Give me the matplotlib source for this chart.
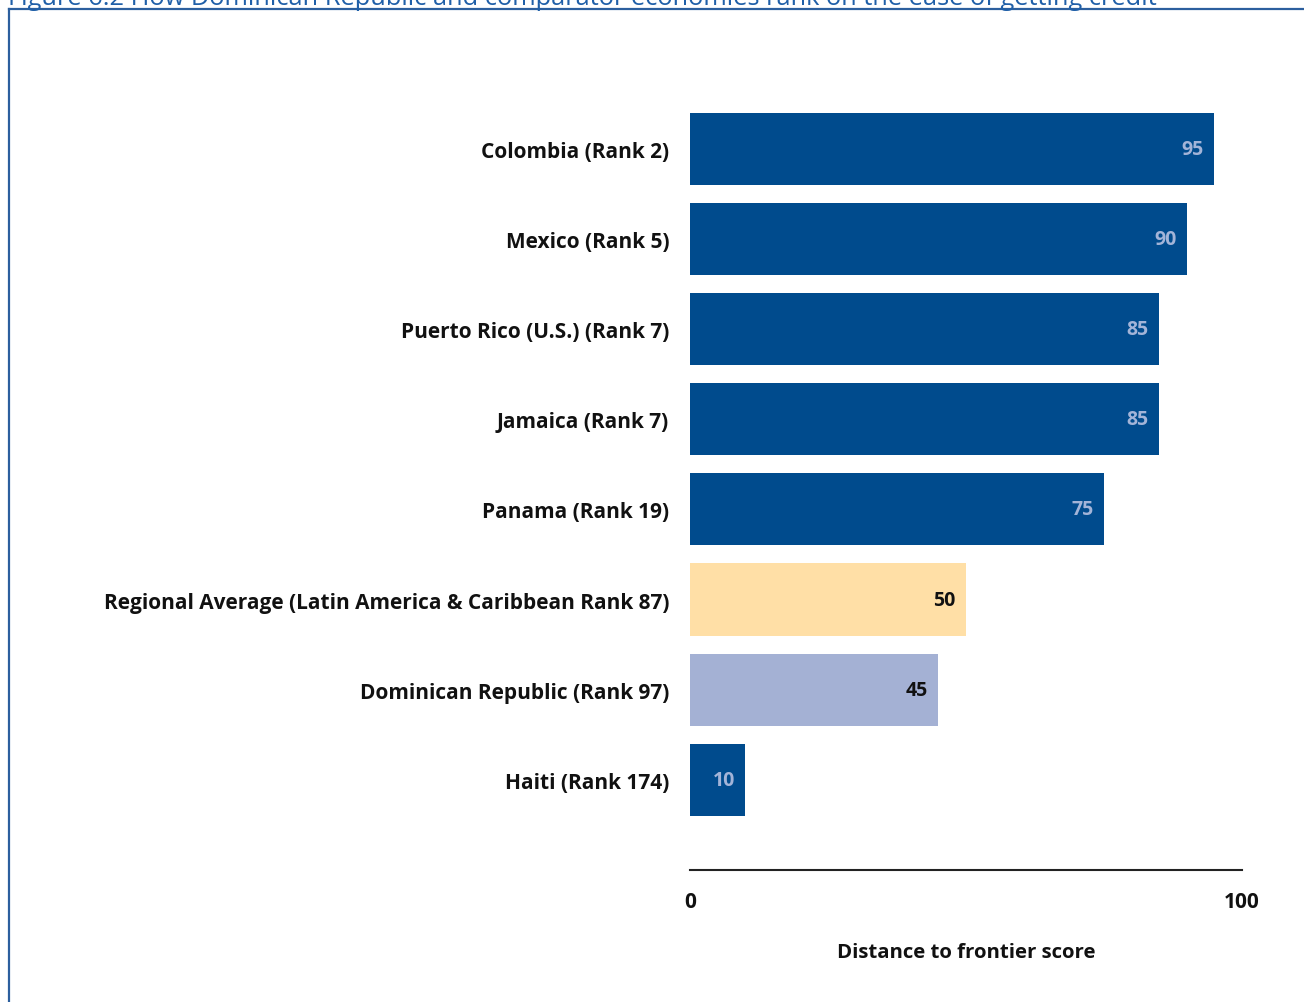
import matplotlib.pyplot as plt
from matplotlib.lines import Line2D

# Getting credit: distance to frontier scores
categories = [
    "Colombia (Rank 2)",
    "Mexico (Rank 5)",
    "Puerto Rico (U.S.) (Rank 7)",
    "Jamaica (Rank 7)",
    "Panama (Rank 19)",
    "Regional Average (Latin America & Caribbean Rank 87)",
    "Dominican Republic (Rank 97)",
    "Haiti (Rank 174)",
]
scores = [95, 90, 85, 85, 75, 50, 45, 10]
groups = ["peer", "peer", "peer", "peer", "peer", "region", "focus", "peer"]
x_ticks = [0, 100]
x_label = "Distance to frontier score"
title = ("Figure 6.2 How Dominican Republic and comparator economies rank "
         "on the ease of getting credit")

bar_colors = {"peer": "#004B8D", "region": "#FFDFA6", "focus": "#A4B1D4"}
value_colors = {"peer": "#A3B4D8", "region": "#111111", "focus": "#111111"}

plt.rcParams["font.family"] = ["Open Sans", "DejaVu Sans"]

W, H = 1304, 1003
fig = plt.figure(figsize=(W / 100, H / 100), dpi=100)

ax_left, ax_right = 690 / W, 1242 / W
ax_top_px, ax_bot_px = 59.5, 871
ax = fig.add_axes([ax_left, 1 - ax_bot_px / H, ax_right - ax_left,
                   (ax_bot_px - ax_top_px) / H])

pos = list(range(len(categories)))
ax.barh(pos, scores, height=0.8,
        color=[bar_colors[g] for g in groups], edgecolor="none")
ax.set_ylim(8.0, -1)
ax.set_xlim(0, 100)

for p, v, g in zip(pos, scores, groups):
    ax.annotate(str(v), xy=(v, p), xytext=(-7.5, 0), textcoords="offset points",
                ha="right", va="center", fontsize=14, fontweight="bold",
                color=value_colors[g])

ax.set_yticks(pos)
ax.set_yticklabels(categories, fontsize=15, fontweight="bold", color="#111111")
ax.tick_params(axis="y", length=0, pad=15)
ax.set_xticks(x_ticks)
ax.set_xticklabels([str(t) for t in x_ticks], fontsize=15, fontweight="bold",
                   color="#111111")
ax.tick_params(axis="x", length=0, pad=15)
ax.set_xlabel(x_label, fontsize=14.7, fontweight="bold", color="#111111",
              labelpad=22)

for side in ("top", "right", "left"):
    ax.spines[side].set_visible(False)
ax.spines["bottom"].set_color("#222222")
ax.spines["bottom"].set_linewidth(1.5)

# Figure caption and frame
fig.text(8 / W, 1 - 5 / H, title, ha="left", va="baseline", fontsize=18.3,
         color="#1F5FA8")
frame_color = "#2C5F9E"
fig.add_artist(Line2D([8.5 / W, 1.0], [1 - 9.5 / H, 1 - 9.5 / H],
                      transform=fig.transFigure, color=frame_color, lw=1.6))
fig.add_artist(Line2D([8.5 / W, 8.5 / W], [1 - 9.5 / H, 0],
                      transform=fig.transFigure, color=frame_color, lw=1.6))

fig.savefig("out.png", dpi=100)
